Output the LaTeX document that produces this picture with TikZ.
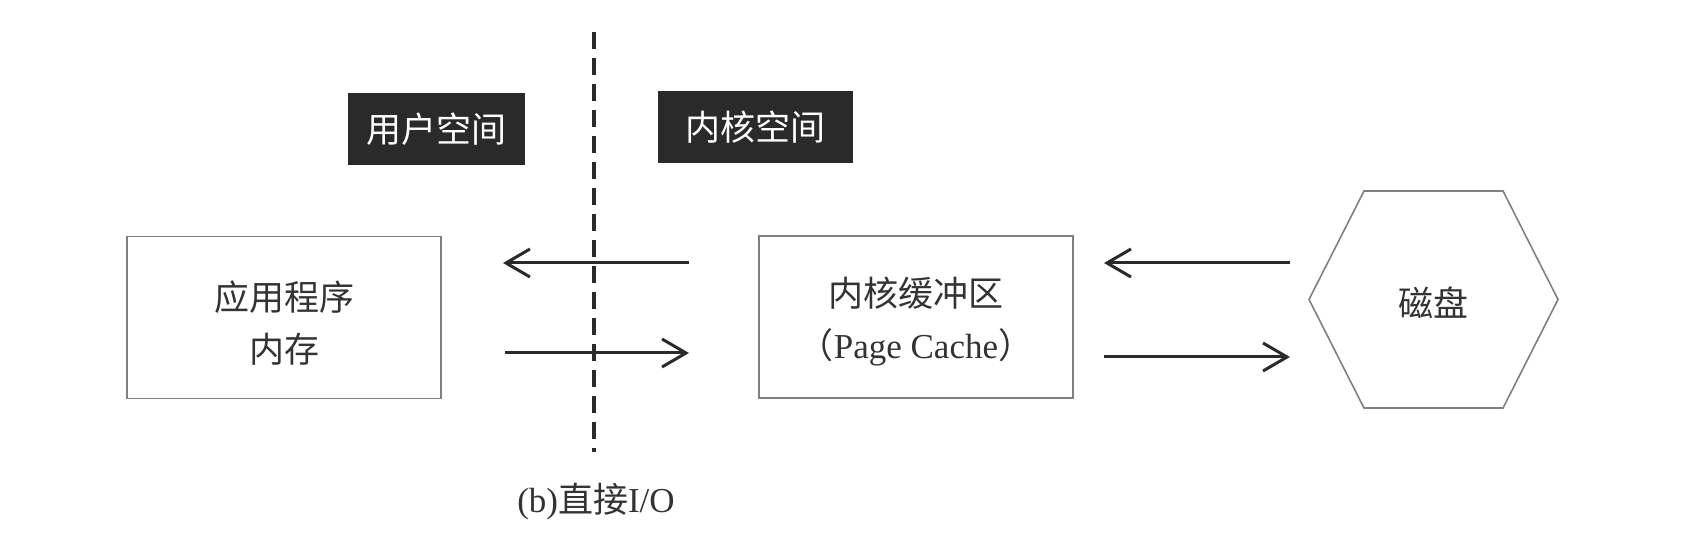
\documentclass[tikz,border=0pt]{standalone}
\usepackage{fontspec}
\setmainfont{Liberation Serif}
\newfontfamily\cjk{Noto Sans CJK SC}
\usetikzlibrary{arrows.meta}
\definecolor{ink}{HTML}{2A2A2A}
\definecolor{txt}{HTML}{333333}
\definecolor{edge}{HTML}{808080}
\begin{document}
\begin{tikzpicture}[x=0.5pt,y=-0.5pt,
  every node/.style={font=\fontsize{17.5pt}{19.5pt}\selectfont, inner sep=0pt},
  membox/.style={draw=edge, line width=0.8pt, minimum width=157pt, minimum height=81pt},
  memtext/.style={text=txt, align=center, font=\fontsize{17.5pt}{26pt}\selectfont},
  tagbox/.style={fill=ink, text=white, minimum height=36pt, font=\cjk\fontsize{17.5pt}{19.5pt}\selectfont},
  flow/.style={draw=ink, line width=1.5pt, -{Straight Barb[length=12pt,width=14pt,line width=1.5pt]}}
]
\useasboundingbox (0,0) rectangle (1685,539);
% divider
\coordinate (dtop) at (594,32);
\coordinate (dbot) at (594,452);
\draw[ink, line width=2pt, dash pattern=on 8.5pt off 4.5pt] (dtop) -- (dbot);
% tags
\node[tagbox, minimum width=88.5pt] (user) at (436.5,129) {用户空间};
\node[tagbox, minimum width=97.5pt] (kern) at (755.5,127.5) {内核空间};
% boxes
\node[membox] (app) at (284,317.5) {};
\node[memtext] (apptext) at (284,323) {\cjk 应用程序\\\cjk 内存};
\node[membox] (cache) at (916,317) {};
\node[memtext] (cachetext) at (916,322) {\cjk 内核缓冲区\\{\cjk （}Page Cache{\cjk ）}};
% disk hexagon
\draw[edge, line width=0.8pt] (1309,299.5) -- (1364,191) -- (1503,191) -- (1558,299.5) -- (1503,408) -- (1364,408) -- cycle;
\node[text=txt, font=\cjk\fontsize{17.5pt}{19.5pt}\selectfont] (disk) at (1433,303) {磁盘};
% arrow end points
\coordinate (a1s) at (689,263);
\coordinate (a1e) at (503,263);
\coordinate (a2s) at (505,353);
\coordinate (a2e) at (689,353);
\coordinate (b1s) at (1290,263);
\coordinate (b1e) at (1104,263);
\coordinate (b2s) at (1104,357);
\coordinate (b2e) at (1290,357);
\draw[flow] (a1s) -- (a1e);
\draw[flow] (a2s) -- (a2e);
\draw[flow] (b1s) -- (b1e);
\draw[flow] (b2s) -- (b2e);
% caption
\node[text=txt] (cap) at (596,502) {(b){\cjk 直接}I/O};
\end{tikzpicture}
\end{document}
